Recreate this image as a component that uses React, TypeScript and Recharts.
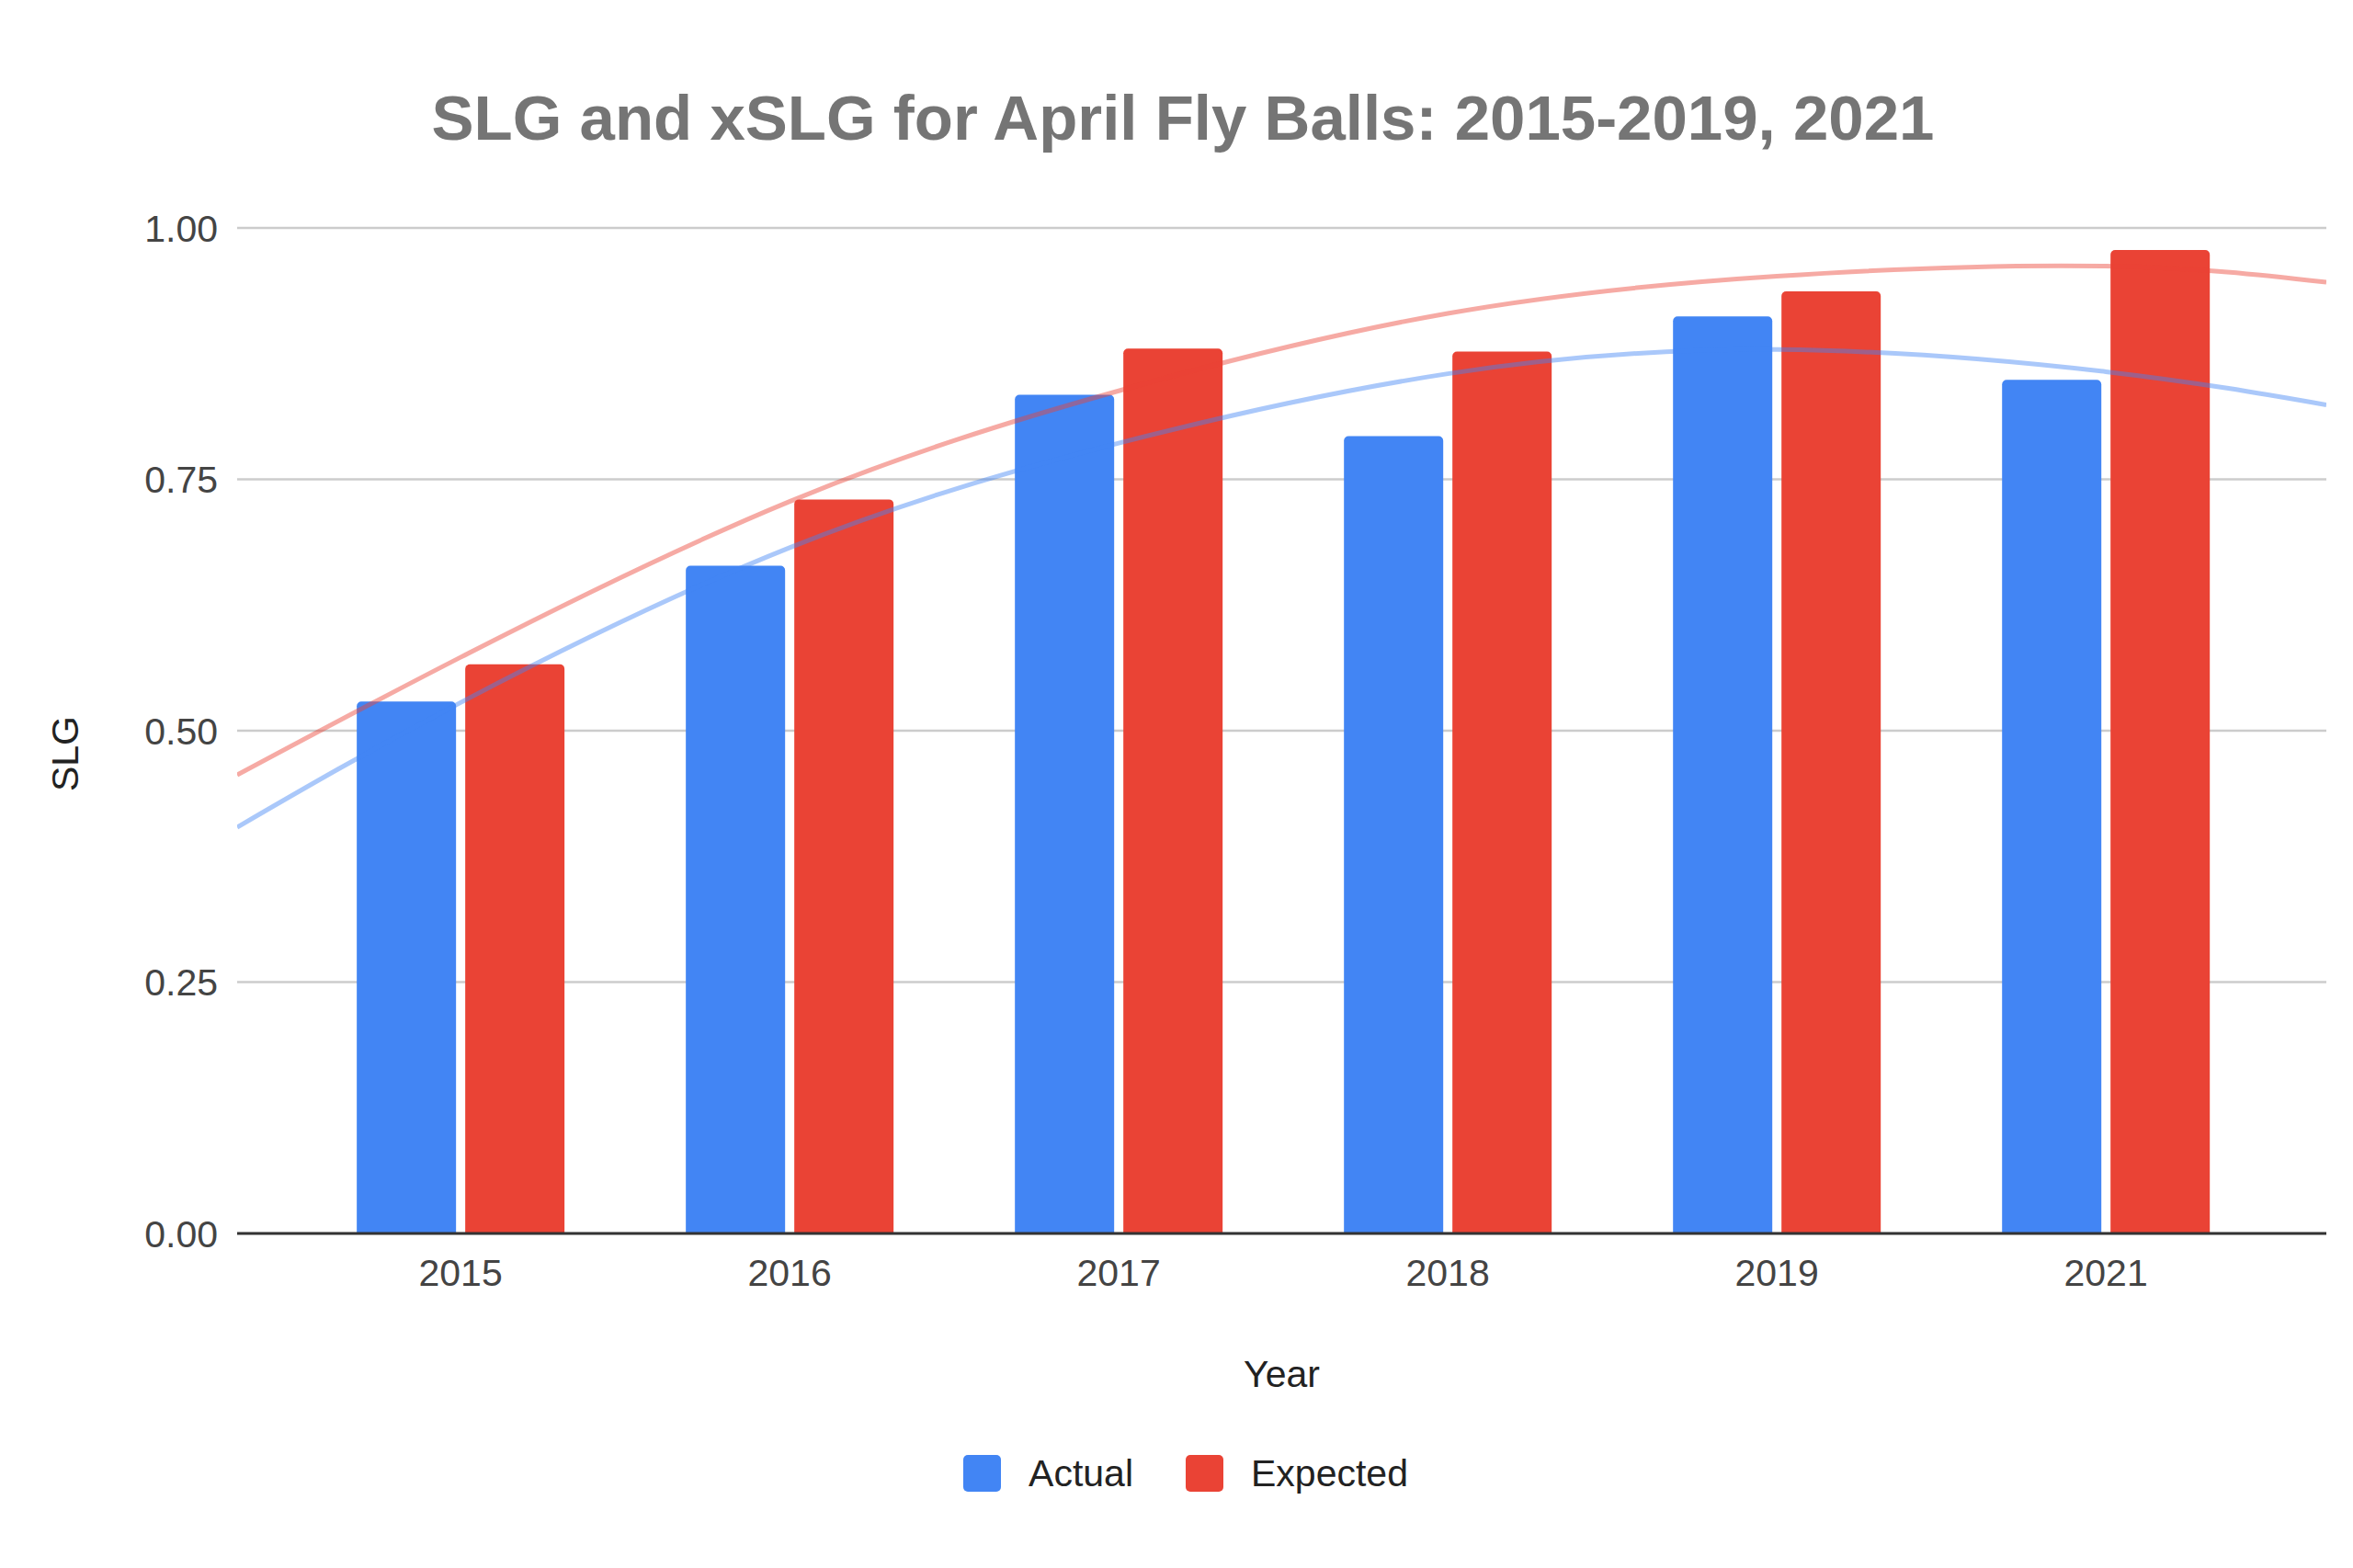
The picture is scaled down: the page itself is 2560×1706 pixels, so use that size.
import React from "react";
import { ComposedChart, Bar, Line, XAxis, YAxis, CartesianGrid, Legend } from "recharts";

const years = ["2015", "2016", "2017", "2018", "2019", "2021"];
const actual = [0.529, 0.664, 0.834, 0.793, 0.912, 0.849];
const expected = [0.566, 0.73, 0.88, 0.877, 0.937, 0.978];

// trendline positions (x in category index units, edges of the plot included)
const trendX = [-0.679, 0, 1, 2, 3, 4, 5, 5.67];
const actualTrend = [0.404, 0.528, 0.682, 0.786, 0.855, 0.879, 0.857, 0.824];
const expectedTrend = [0.456, 0.573, 0.728, 0.838, 0.915, 0.952, 0.962, 0.946];

const yTicks = [0, 0.25, 0.5, 0.75, 1];

const FONT = '"Liberation Sans", Arial, sans-serif';
const BLUE = "#4285F4";
const RED = "#EA4335";

const barData = years.map((year, i) => ({ x: i, year, actual: actual[i], expected: expected[i] }));
const actualTrendData = trendX.map((x, i) => ({ x, y: actualTrend[i] }));
const expectedTrendData = trendX.map((x, i) => ({ x, y: expectedTrend[i] }));

const renderLegend = (props: any) => {
  const items = (props.payload || []).filter((p: any) => p.type !== "none");
  return (
    <div
      style={{
        display: "flex",
        justifyContent: "center",
        alignItems: "center",
        height: 86,
        paddingLeft: 20,
        fontFamily: FONT,
        fontSize: 41,
        color: "#222",
      }}
    >
      {items.map((item: any, i: number) => (
        <div key={item.value} style={{ display: "flex", alignItems: "center", marginLeft: i === 0 ? 0 : 57 }}>
          <div style={{ width: 41, height: 40, borderRadius: 5, background: item.color, marginRight: 30 }} />
          <span>{item.value}</span>
        </div>
      ))}
    </div>
  );
};

const renderYLabel = (props: any) => {
  const vb = props.viewBox || {};
  const cx = vb.x + 71;
  const cy = vb.y + vb.height / 2 + 25;
  return (
    <text
      x={cx}
      y={cy}
      transform={`rotate(-90 ${cx} ${cy})`}
      textAnchor="middle"
      dominantBaseline="central"
      fontFamily={FONT}
      fontSize={41}
      fill="#222"
    >
      SLG
    </text>
  );
};

export default function App() {
  return (
    <div style={{ position: "absolute", left: 0, top: 0, width: 2560, height: 1706, background: "#fff" }}>
      <div
        style={{
          position: "absolute",
          top: 94,
          left: 0,
          width: 2560,
          paddingLeft: 14,
          boxSizing: "border-box",
          textAlign: "center",
          fontFamily: FONT,
          fontWeight: 700,
          fontSize: 69,
          lineHeight: "69px",
          color: "#757575",
        }}
      >
        SLG and xSLG for April Fly Balls: 2015-2019, 2021
      </div>
      <ComposedChart
        width={2560}
        height={1706}
        data={barData}
        margin={{ top: 248, right: 29, left: 0, bottom: 60 }}
        barGap={10}
      >
        <CartesianGrid vertical={false} stroke="#cccccc" strokeWidth={2.5} />
        <XAxis
          type="number"
          dataKey="x"
          domain={[-0.679, 5.67]}
          allowDataOverflow
          ticks={[0, 1, 2, 3, 4, 5]}
          tickFormatter={(v: number) => years[v]}
          height={218}
          axisLine={{ stroke: "#333333", strokeWidth: 3 }}
          tickLine={false}
          tickSize={6}
          tickMargin={22}
          tick={{ fontFamily: FONT, fontSize: 41, fill: "#444444" }}
          label={{ value: "Year", position: "insideTop", offset: 138, fontFamily: FONT, fontSize: 41, fill: "#222222" }}
        />
        <YAxis
          domain={[0, 1]}
          ticks={yTicks}
          tickFormatter={(v: number) => v.toFixed(2)}
          width={258}
          axisLine={false}
          tickLine={false}
          tickSize={6}
          tickMargin={15}
          tick={{ fontFamily: FONT, fontSize: 41, fill: "#444444" }}
          label={{ content: renderYLabel }}
        />
        <Legend verticalAlign="bottom" height={86} content={renderLegend} wrapperStyle={{ left: 0, width: 2560 }} />
        <Bar dataKey="actual" name="Actual" fill={BLUE} barSize={108} radius={[5, 5, 0, 0]} isAnimationActive={false} />
        <Bar dataKey="expected" name="Expected" fill={RED} barSize={108} radius={[5, 5, 0, 0]} isAnimationActive={false} />
        <Line
          data={actualTrendData}
          dataKey="y"
          type="natural"
          stroke={BLUE}
          strokeOpacity={0.45}
          strokeWidth={5}
          dot={false}
          activeDot={false}
          legendType="none"
          isAnimationActive={false}
        />
        <Line
          data={expectedTrendData}
          dataKey="y"
          type="natural"
          stroke={RED}
          strokeOpacity={0.45}
          strokeWidth={5}
          dot={false}
          activeDot={false}
          legendType="none"
          isAnimationActive={false}
        />
      </ComposedChart>
    </div>
  );
}
